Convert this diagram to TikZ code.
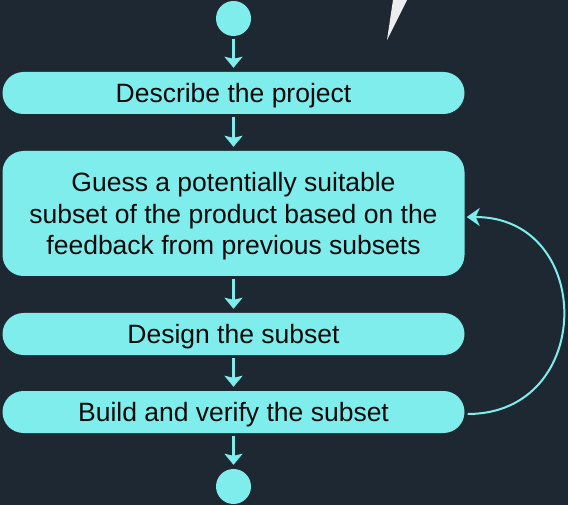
\documentclass[tikz,border=0pt]{standalone}
\usepackage{fontspec}
\setmainfont{Liberation Sans}
\usetikzlibrary{arrows.meta}
\definecolor{bg}{HTML}{1E2833}
\definecolor{cyan}{HTML}{7EEDEC}
\definecolor{ink}{HTML}{0A0A0A}
\tikzset{
	stepbox/.style={fill=cyan, rounded corners=21pt, minimum width=462pt, minimum height=42pt,
		inner sep=0pt, text depth=0pt, align=center, text=ink, font=\fontsize{26.5}{31.5}\selectfont},
	endpoint/.style={circle, fill=cyan, minimum size=35pt, inner sep=0pt},
	flow/.style={draw=cyan, line width=2.8pt, -{Stealth[width=18pt,length=11pt,inset=2pt]},
		shorten <=2.5pt, shorten >=4pt},
	loopback/.style={draw=cyan, line width=2pt, -{Stealth[width=18pt,length=13pt,inset=4pt]},
		shorten <=3pt, shorten >=2pt}
}

\begin{document}
\begin{tikzpicture}[x=1pt, y=-1pt]
				\fill[bg] (0,0) rectangle (568,505);
				\useasboundingbox (0,0) rectangle (568,505);
				% white wedge at the top
				\fill[white!93!black] (393,0) -- (407,0) -- (387,40) -- cycle;
				\node[endpoint] (S) at (233.5,18.5) {};
				\node[stepbox] (D) at (233.5,93) {Describe the project};
				\node[stepbox, minimum height=125pt] (G) at (233.5,213.5) {Guess a potentially suitable\\subset of the product based on the\\feedback from previous subsets};
				\node[stepbox] (N) at (233.5,334) {Design the subset};
				\node[stepbox] (B) at (233.5,412) {Build and verify the subset};
				\node[endpoint] (E) at (233.5,486.5) {};
				\draw[flow] (S) -- (D);
				\draw[flow] (D) -- (G);
				\draw[flow] (G) -- (N);
				\draw[flow] (N) -- (B);
				\draw[flow] (B) -- (E);
				\draw[loopback] ([yshift=-2pt]B.east) to[out=0, in=0, looseness=1.7] ([yshift=-3.5pt]G.east);
			\end{tikzpicture}
\end{document}
